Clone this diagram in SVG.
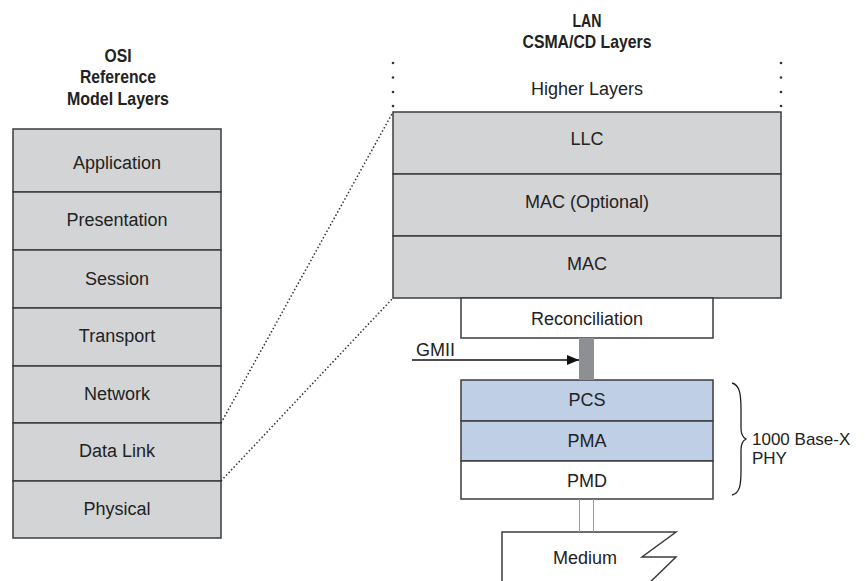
<svg xmlns="http://www.w3.org/2000/svg" width="865" height="581" viewBox="0 0 865 581">
<style>
  .lbl{font-family:"Liberation Sans",Arial,sans-serif;font-size:18px;fill:#222;text-anchor:middle}
  .hdr{font-family:"Liberation Sans",Arial,sans-serif;font-size:19px;font-weight:bold;fill:#222;text-anchor:middle}
  .side{font-family:"Liberation Sans",Arial,sans-serif;font-size:17px;fill:#222}
  .gray{fill:#d3d4d6;stroke:#3c3c3c;stroke-width:1.5}
  .blue{fill:#bfcfe6;stroke:#3c3c3c;stroke-width:1.5}
  .white{fill:#fff;stroke:#3c3c3c;stroke-width:1.5}
  .dotline{fill:none;stroke:#333;stroke-width:1.5;stroke-dasharray:1.5 2.2}
  .dot{fill:#333}
</style>
<defs>
  <marker id="arr" markerWidth="12" markerHeight="10" refX="12" refY="5" orient="auto" markerUnits="userSpaceOnUse">
    <path d="M0,0 L12,5 L0,10 Z" fill="#111"/>
  </marker>
</defs>

<!-- Headers -->
<g id="osi-header">
  <text class="hdr" x="118" y="62" textLength="27" lengthAdjust="spacingAndGlyphs">OSI</text>
  <text class="hdr" x="118" y="83" textLength="76" lengthAdjust="spacingAndGlyphs">Reference</text>
  <text class="hdr" x="118" y="105" textLength="102" lengthAdjust="spacingAndGlyphs">Model Layers</text>
</g>
<g id="lan-header">
  <text class="hdr" x="587" y="27" textLength="29" lengthAdjust="spacingAndGlyphs">LAN</text>
  <text class="hdr" x="587" y="48" textLength="129" lengthAdjust="spacingAndGlyphs">CSMA/CD Layers</text>
</g>

<!-- OSI stack -->
<g id="osi-application"><rect class="gray" x="13" y="129" width="208" height="63"/><text class="lbl" x="117" y="169">Application</text></g>
<g id="osi-presentation"><rect class="gray" x="13" y="192" width="208" height="58"/><text class="lbl" x="117" y="226">Presentation</text></g>
<g id="osi-session"><rect class="gray" x="13" y="250" width="208" height="58"/><text class="lbl" x="117" y="285">Session</text></g>
<g id="osi-transport"><rect class="gray" x="13" y="308" width="208" height="58"/><text class="lbl" x="117" y="342">Transport</text></g>
<g id="osi-network"><rect class="gray" x="13" y="366" width="208" height="57"/><text class="lbl" x="117" y="400">Network</text></g>
<g id="osi-datalink"><rect class="gray" x="13" y="423" width="208" height="58"/><text class="lbl" x="117" y="457">Data Link</text></g>
<g id="osi-physical"><rect class="gray" x="13" y="481" width="208" height="57"/><text class="lbl" x="117" y="515">Physical</text></g>

<!-- Higher layers -->
<g id="higher-layers">
  <circle class="dot" cx="393" cy="63" r="1.3"/><circle class="dot" cx="393" cy="77.5" r="1.3"/><circle class="dot" cx="393" cy="92" r="1.3"/><circle class="dot" cx="393" cy="106" r="1.3"/>
  <circle class="dot" cx="781" cy="63" r="1.3"/><circle class="dot" cx="781" cy="77.5" r="1.3"/><circle class="dot" cx="781" cy="92" r="1.3"/><circle class="dot" cx="781" cy="106" r="1.3"/>
  <text class="lbl" x="587" y="95">Higher Layers</text>
</g>

<!-- LAN stack -->
<g id="lan-llc"><rect class="gray" x="393" y="112" width="388" height="62"/><text class="lbl" x="587" y="145">LLC</text></g>
<g id="lan-mac-optional"><rect class="gray" x="393" y="174" width="388" height="62"/><text class="lbl" x="587" y="208">MAC (Optional)</text></g>
<g id="lan-mac"><rect class="gray" x="393" y="236" width="388" height="62"/><text class="lbl" x="587" y="270">MAC</text></g>
<g id="reconciliation"><rect class="white" x="461" y="298" width="252" height="40"/><text class="lbl" x="587" y="325">Reconciliation</text></g>
<g id="pcs"><rect class="blue" x="461" y="380" width="252" height="41"/><text class="lbl" x="587" y="406">PCS</text></g>
<g id="pma"><rect class="blue" x="461" y="421" width="252" height="40"/><text class="lbl" x="587" y="447">PMA</text></g>
<g id="pmd"><rect class="white" x="461" y="461" width="252" height="38"/><text class="lbl" x="587" y="487">PMD</text></g>

<g id="medium">
  <path d="M502,590 L502,532 L676,532 L642,557 L676,557 L642,590" fill="#fff" stroke="#3c3c3c" stroke-width="1.5"/>
  <text class="lbl" x="585" y="564">Medium</text>
</g>

<g id="phy-brace">
  <path d="M732,383 C740,385 741,395 741,410 L741,428 C741,434 742,437 746,439 C742,441 741,444 741,450 L741,470 C741,485 740,493 732,495" fill="none" stroke="#222" stroke-width="1.3"/>
  <text class="side" x="752" y="445">1000 Base-X</text>
  <text class="side" x="752" y="464">PHY</text>
</g>

<!-- Connectors -->
<g id="connectors">
  <path class="dotline" d="M221,423 L393,112"/>
  <path class="dotline" d="M221,481 L393,298"/>
  <rect x="579" y="338" width="15" height="42" fill="#8e8f92"/>
  <line x1="412" y1="360" x2="579" y2="360" stroke="#111" stroke-width="1.3" marker-end="url(#arr)"/>
  <text class="side" x="416" y="356" style="font-size:18px">GMII</text>
  <line x1="579.5" y1="499" x2="579.5" y2="532" stroke="#9a9a9a" stroke-width="1"/>
  <line x1="593.5" y1="499" x2="593.5" y2="532" stroke="#9a9a9a" stroke-width="1"/>
</g>
</svg>
